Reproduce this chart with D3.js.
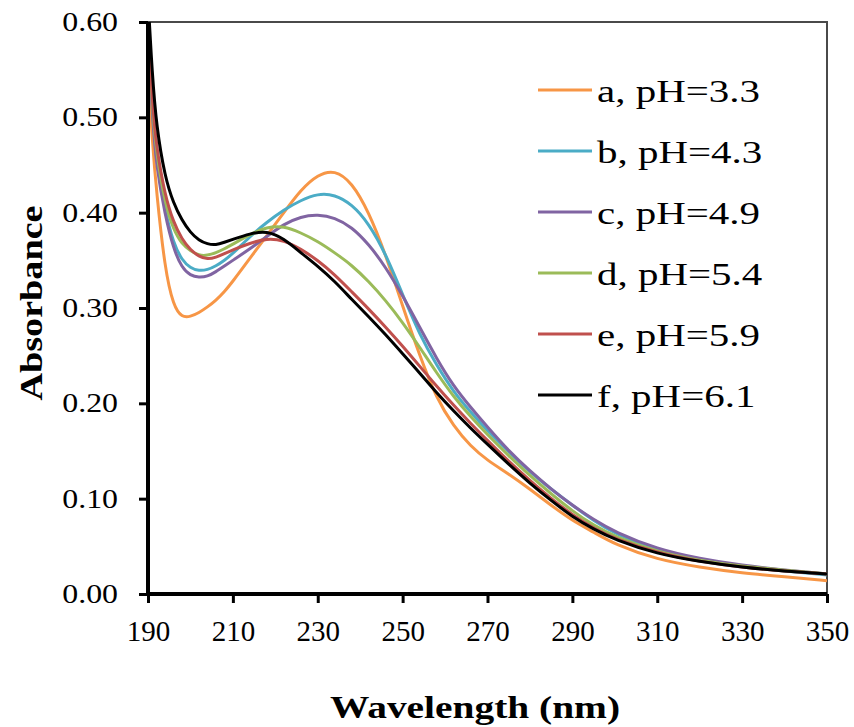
<!DOCTYPE html>
<html>
<head>
<meta charset="utf-8">
<script src="https://cdn.jsdelivr.net/npm/d3@7"></script>
<style>
  html, body { margin: 0; padding: 0; background: #fff; }
  svg { display: block; }
  text { font-family: "Liberation Serif", "Times New Roman", serif; fill: #000; }
</style>
</head>
<body>
<svg id="chart" width="854" height="727"></svg>
<script>
// ---- data ----
const wavelengths = [190,191,192,194,196,198,200,202,204,206,208,210,214,218,222,226,230,234,238,242,246,250,254,258,262,266,270,275,280,285,290,295,300,310,320,330,340,350];

const seriesA = [0.550,0.475,0.422,0.340,0.302,0.290,0.291,0.295,0.301,0.308,0.317,0.328,0.352,0.376,0.400,0.424,0.440,0.445,0.432,0.401,0.356,0.302,0.250,0.205,0.176,0.155,0.140,0.126,0.110,0.093,0.077,0.065,0.052,0.036,0.028,0.022,0.018,0.014];
const seriesB = [0.605,0.505,0.452,0.402,0.368,0.350,0.342,0.339,0.340,0.344,0.350,0.357,0.375,0.390,0.403,0.413,0.420,0.419,0.409,0.389,0.357,0.314,0.272,0.240,0.212,0.191,0.171,0.149,0.128,0.110,0.093,0.077,0.063,0.046,0.036,0.029,0.024,0.020];
const seriesC = [0.605,0.500,0.448,0.398,0.362,0.342,0.334,0.332,0.333,0.338,0.344,0.350,0.362,0.375,0.388,0.396,0.398,0.395,0.385,0.367,0.343,0.313,0.280,0.247,0.218,0.196,0.175,0.150,0.129,0.110,0.093,0.078,0.065,0.047,0.037,0.030,0.025,0.021];
const seriesD = [0.605,0.510,0.462,0.410,0.382,0.367,0.360,0.355,0.355,0.358,0.362,0.367,0.377,0.385,0.386,0.379,0.370,0.358,0.345,0.328,0.308,0.285,0.259,0.232,0.207,0.186,0.167,0.145,0.124,0.105,0.087,0.072,0.060,0.044,0.035,0.029,0.025,0.021];
const seriesE = [0.605,0.515,0.468,0.418,0.390,0.372,0.361,0.354,0.351,0.353,0.357,0.361,0.368,0.373,0.371,0.362,0.350,0.335,0.317,0.299,0.280,0.260,0.239,0.218,0.198,0.179,0.161,0.139,0.119,0.100,0.083,0.069,0.058,0.043,0.034,0.028,0.024,0.021];
const seriesF = [0.625,0.545,0.490,0.437,0.410,0.392,0.379,0.371,0.367,0.366,0.369,0.372,0.378,0.381,0.373,0.358,0.344,0.328,0.309,0.291,0.272,0.252,0.232,0.211,0.192,0.174,0.157,0.136,0.116,0.098,0.081,0.068,0.057,0.042,0.034,0.028,0.024,0.021];

const seriesNames = ["a, pH=3.3","b, pH=4.3","c, pH=4.9","d, pH=5.4","e, pH=5.9","f, pH=6.1"];
const seriesColors = ["#F79646","#4BACC6","#8064A2","#9BBB59","#C0504D","#000000"];
const seriesValues = [seriesA, seriesB, seriesC, seriesD, seriesE, seriesF];

const xTicks = [190,210,230,250,270,290,310,330,350];
const yTicks = [0,0.1,0.2,0.3,0.4,0.5,0.6];

// ---- layout ----
(function(){
const svg = d3.select("#chart");
const pL = 148, pR = 827, pT = 22, pB = 594;

const x = d3.scaleLinear().domain([190,350]).range([pL,pR]);
const y = d3.scaleLinear().domain([0,0.6]).range([pB,pT]);

svg.append("defs").append("clipPath").attr("id","plotclip")
  .append("rect").attr("x",pL).attr("y",pT).attr("width",pR-pL).attr("height",pB-pT);

// border (top & right)
svg.append("path")
  .attr("d", `M${pL},${pT}H${pR}V${pB}`)
  .attr("fill","none").attr("stroke","#4a4a4a").attr("stroke-width",2);

// series
const line = d3.line()
  .x((d,i)=>x(wavelengths[i]))
  .y(d=>y(d))
  .curve(d3.curveBasis);

const g = svg.append("g").attr("clip-path","url(#plotclip)");
seriesValues.forEach((vals,k)=>{
  g.append("path").datum(vals)
    .attr("d", line)
    .attr("fill","none")
    .attr("stroke", seriesColors[k])
    .attr("stroke-width", 3)
    .attr("stroke-linejoin","round");
});

// axes
const xAxis = d3.axisBottom(x).tickValues(xTicks).tickSize(9).tickPadding(18).tickFormat(d3.format("d"));
const yAxis = d3.axisLeft(y).tickValues(yTicks).tickSize(9).tickPadding(12).tickFormat(d3.format(".2f"));

const gx = svg.append("g").attr("transform",`translate(0,${pB})`).call(xAxis);
const gy = svg.append("g").attr("transform",`translate(${pL},0)`).call(yAxis);

[gx,gy].forEach(ga=>{
  ga.select(".domain").attr("stroke","#000").attr("stroke-width",4);
  ga.selectAll(".tick line").attr("stroke","#000").attr("stroke-width",3);
  ga.selectAll(".tick text")
    .style("font-family",'"Liberation Serif", "Times New Roman", serif')
    .attr("fill","#000");
});
gx.select(".domain").attr("d",`M${pL},0H${pR}`);
gy.select(".domain").attr("d",`M0,${pT}V${pB}`);

gy.selectAll(".tick text").style("font-size","27px")
  .attr("transform","scale(1.18,1)")
  .attr("x", -30/1.18);
gx.selectAll(".tick text").style("font-size","29px")
  .attr("y", 26).attr("dy","0.71em");

// axis titles
svg.append("text")
  .attr("x",475).attr("y",718)
  .attr("text-anchor","middle")
  .style("font-size","32px").style("font-weight","bold")
  .attr("textLength",290).attr("lengthAdjust","spacingAndGlyphs")
  .text("Wavelength (nm)");

svg.append("text")
  .attr("transform","translate(42,303) rotate(-90)")
  .attr("text-anchor","middle")
  .style("font-size","32px").style("font-weight","bold")
  .attr("textLength",195).attr("lengthAdjust","spacingAndGlyphs")
  .text("Absorbance");

// legend
const legendY0 = 90, legendStep = 61;
const lg = svg.append("g");
seriesNames.forEach((name,k)=>{
  const yy = legendY0 + k*legendStep;
  lg.append("line").attr("x1",538).attr("x2",592).attr("y1",yy).attr("y2",yy)
    .attr("stroke",seriesColors[k]).attr("stroke-width",3);
  lg.append("text")
    .attr("transform",`translate(597,${yy+12}) scale(1.28,1)`)
    .style("font-size","32px")
    .text(name);
});
})();
</script>
</body>
</html>
